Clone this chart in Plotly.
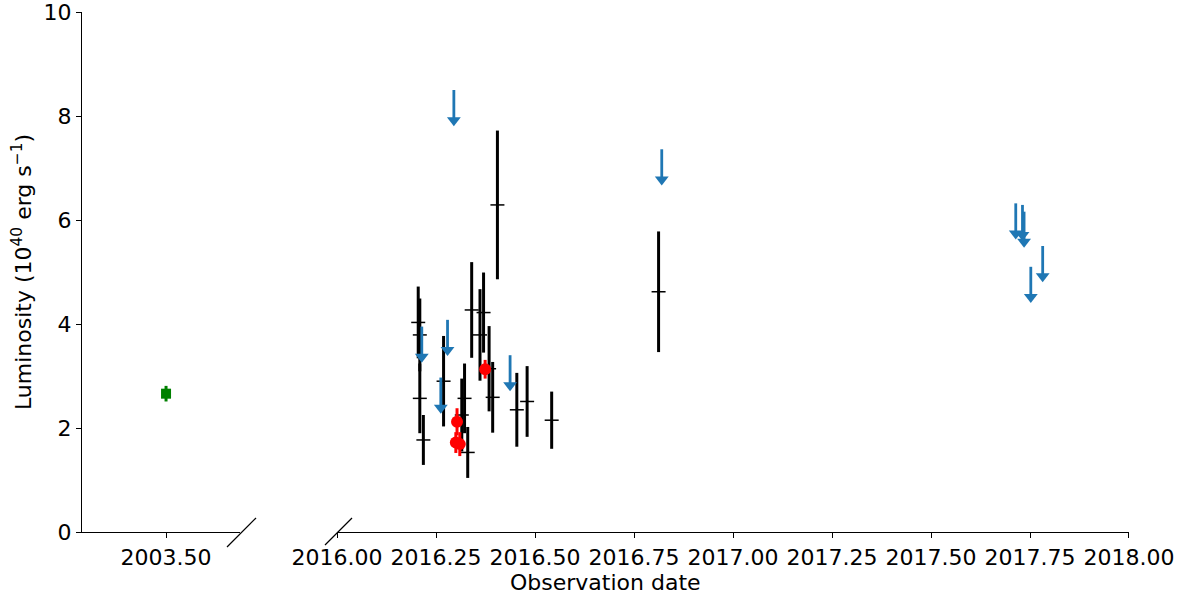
import plotly.graph_objects as go

#########
# DATA  #
#########

# 2003 observation (green square)
early_date = [2003.50]
early_lum = [2.66]
early_err = [0.15]

# detections (black bars)
det_date = [2016.205, 2016.209, 2016.209, 2016.218, 2016.269, 2016.315, 2016.322,
            2016.330, 2016.340, 2016.361, 2016.370, 2016.384, 2016.393, 2016.405,
            2016.454, 2016.480, 2016.542, 2016.812]
det_lum = [4.03, 3.79, 2.57, 1.77, 2.90, 2.25, 2.57,
           1.53, 4.27, 3.79, 4.22, 3.14, 2.59, 6.29,
           2.35, 2.51, 2.15, 4.62]
det_err = [0.69, 0.70, 0.67, 0.48, 0.87, 0.70, 0.67,
           0.49, 0.92, 0.88, 0.77, 0.82, 0.68, 1.43,
           0.71, 0.68, 0.55, 1.16]

# red points
red_date = [2016.303, 2016.300, 2016.310, 2016.374]
red_lum = [2.12, 1.72, 1.69, 3.13]
red_err = [0.26, 0.20, 0.23, 0.18]

# upper limits (blue arrows)
ul_date = [2016.214, 2016.262, 2016.279, 2016.295, 2016.437, 2016.820,
           2017.714, 2017.731, 2017.735, 2017.752, 2017.782]
ul_lum = [3.95, 2.97, 4.08, 8.50, 3.40, 7.36,
          6.32, 6.29, 6.16, 5.10, 5.50]
ARROW_LEN = 0.58

FONT = "DejaVu Sans"
BLUE = "#1f77b4"

##########
# Figure #
##########

fig = go.Figure()

fig.add_trace(go.Scatter(
    x=early_date, y=early_lum, xaxis="x", yaxis="y", mode="markers",
    marker=dict(symbol="square", size=10, color="green"),
    error_y=dict(type="data", array=early_err, thickness=3, width=0, color="green"),
))

fig.add_trace(go.Scatter(
    x=det_date, y=det_lum, xaxis="x2", yaxis="y", mode="markers",
    marker=dict(symbol="line-ew", size=10, line=dict(width=1.5, color="black")),
    error_y=dict(type="data", array=det_err, thickness=3, width=0, color="black"),
))

tips = [v - ARROW_LEN for v in ul_lum]
fig.add_trace(go.Scatter(
    x=ul_date, y=tips, xaxis="x2", yaxis="y", mode="markers",
    marker=dict(symbol="triangle-down", size=12, color=BLUE),
    error_y=dict(type="data", symmetric=False, array=[ARROW_LEN] * len(tips),
                 arrayminus=[0] * len(tips), thickness=2.8, width=0, color=BLUE),
))

fig.add_trace(go.Scatter(
    x=red_date, y=red_lum, xaxis="x2", yaxis="y", mode="markers",
    marker=dict(symbol="circle", size=12, color="red"),
    error_y=dict(type="data", array=red_err, thickness=3, width=0, color="red"),
))

# axis break marks
for x0, x1, y0 in [(0.1385, 0.1662, -0.0288), (0.2321, 0.2579, -0.025)]:
    fig.add_shape(type="line", xref="paper", yref="paper",
                  x0=x0, x1=x1, y0=y0, y1=0.0269,
                  line=dict(color="black", width=1.2))

axis_common = dict(
    showline=True, linecolor="black", linewidth=1.2, ticks="outside",
    ticklen=5, tickwidth=1.2, tickcolor="black", showgrid=False,
    zeroline=False, automargin=False, ticklabeloverflow="allow",
    tickfont=dict(size=22, color="black"),
)

fig.update_layout(
    template="none",
    width=1187, height=596,
    margin=dict(l=82, r=58, t=12, b=64),
    showlegend=False,
    plot_bgcolor="white", paper_bgcolor="white",
    font=dict(family=FONT, size=22, color="black"),
    xaxis=dict(domain=[0, 0.1509], range=[2003.25, 2003.72],
               tickvals=[2003.5], tickformat=".2f", anchor="y", **axis_common),
    xaxis2=dict(domain=[0.2436, 1], range=[2016, 2018], tick0=2016, dtick=0.25,
                tickformat=".2f", anchor="y", **axis_common),
    yaxis=dict(range=[0, 10], tickvals=[0, 2, 4, 6, 8, 10], anchor="x",
               **axis_common),
)

fig.add_annotation(text="Luminosity (10<sup>40</sup> erg s<sup>\u22121</sup>)",
                   xref="paper", yref="paper", x=0, y=0.5, xshift=-60,
                   textangle=-90, showarrow=False, xanchor="center",
                   yanchor="middle", font=dict(size=22))

fig.add_annotation(text="Observation date", xref="paper", yref="paper",
                   x=0.5, y=0, yshift=-50, showarrow=False,
                   xanchor="center", yanchor="middle", font=dict(size=22))

# drop the default 8px page margin so the figure fills the window exactly
fig.write_html("out.html", config={"displayModeBar": False},
               post_script="document.body.style.margin='0';")
